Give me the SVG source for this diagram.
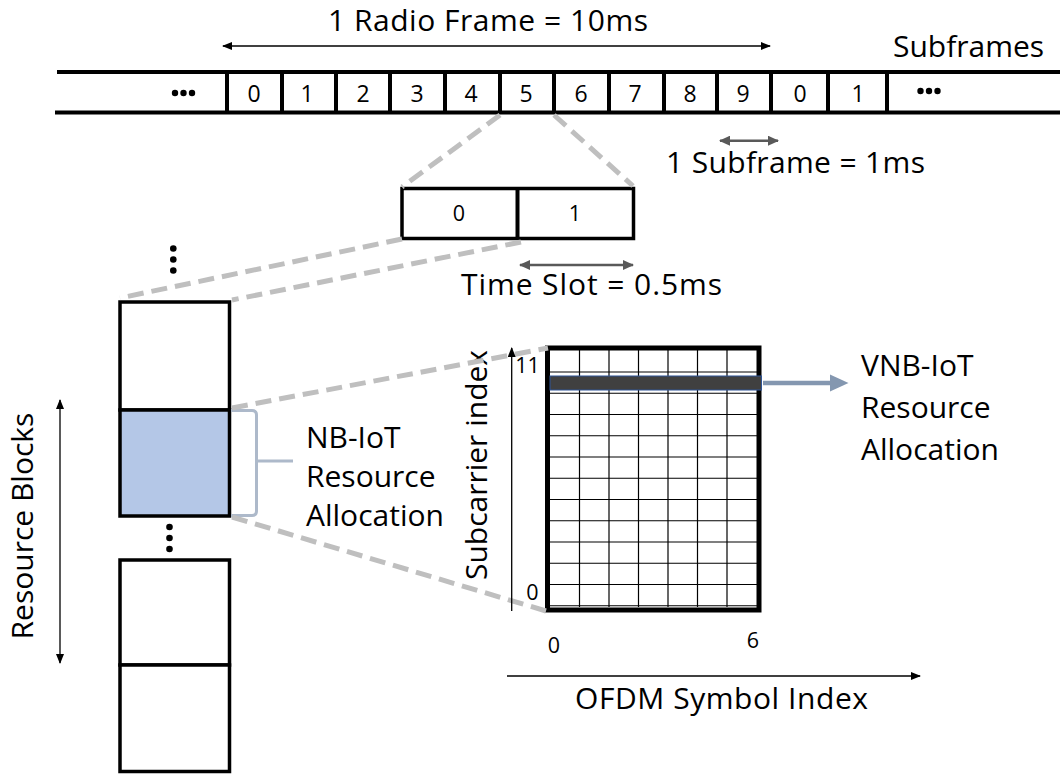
<svg xmlns="http://www.w3.org/2000/svg" width="1060" height="776" viewBox="0 0 1060 776">
  <style>
    text { font-family: "Open Sans", "Liberation Sans", sans-serif; fill: #000; }
    .lbl { font-size: 30px; }
    .dig { font-size: 23px; text-anchor: middle; }
    .sdig { font-size: 21.5px; text-anchor: middle; }
    .thick { stroke: #000; stroke-width: 4; fill: none; }
    .box { stroke: #000; stroke-width: 3.5; fill: #fff; }
    .grid { stroke: #000; stroke-width: 1.2; fill: none; }
    .dash { stroke: #bfbfbf; stroke-width: 5; stroke-dasharray: 16 8; fill: none; }
    .thin { stroke: #000; stroke-width: 1.3; fill: none; }
    .garr { stroke: #595959; stroke-width: 2.5; fill: none; }
    .dot { fill: #000; }
  </style>
  <defs>
    <marker id="ah" markerUnits="userSpaceOnUse" markerWidth="10" markerHeight="8" refX="9" refY="4" orient="auto-start-reverse">
      <path d="M0,0 L10,4 L0,8 Z" fill="#000"/>
    </marker>
    <marker id="ahg" markerUnits="userSpaceOnUse" markerWidth="11" markerHeight="10" refX="10" refY="5" orient="auto-start-reverse">
      <path d="M0,0 L11,5 L0,10 Z" fill="#595959"/>
    </marker>
  </defs>

  <rect x="0" y="0" width="1060" height="776" fill="#fff"/>

  <!-- Subframe strip -->
  <g id="subframe-strip">
    <line x1="57" y1="72" x2="1060" y2="72" class="thick"/>
    <line x1="55" y1="112.5" x2="1060" y2="112.5" class="thick"/>
    <g class="thick">
      <line x1="227" y1="72" x2="227" y2="112.5"/>
      <line x1="282" y1="72" x2="282" y2="112.5"/>
      <line x1="336" y1="72" x2="336" y2="112.5"/>
      <line x1="390" y1="72" x2="390" y2="112.5"/>
      <line x1="445" y1="72" x2="445" y2="112.5"/>
      <line x1="500" y1="72" x2="500" y2="112.5"/>
      <line x1="554" y1="72" x2="554" y2="112.5"/>
      <line x1="609" y1="72" x2="609" y2="112.5"/>
      <line x1="664" y1="72" x2="664" y2="112.5"/>
      <line x1="717" y1="72" x2="717" y2="112.5"/>
      <line x1="771" y1="72" x2="771" y2="112.5"/>
      <line x1="828" y1="72" x2="828" y2="112.5"/>
      <line x1="887" y1="72" x2="887" y2="112.5"/>
    </g>
    <text class="dig" x="254" y="101.5">0</text>
    <text class="dig" x="307" y="101.5">1</text>
    <text class="dig" x="363" y="101.5">2</text>
    <text class="dig" x="417" y="101.5">3</text>
    <text class="dig" x="471" y="101.5">4</text>
    <text class="dig" x="526" y="101.5">5</text>
    <text class="dig" x="581" y="101.5">6</text>
    <text class="dig" x="635" y="101.5">7</text>
    <text class="dig" x="690" y="101.5">8</text>
    <text class="dig" x="743" y="101.5">9</text>
    <text class="dig" x="800" y="101.5">0</text>
    <text class="dig" x="858" y="101.5">1</text>
    <circle class="dot" cx="175" cy="93" r="3.2"/>
    <circle class="dot" cx="183.5" cy="93" r="3.2"/>
    <circle class="dot" cx="192" cy="93" r="3.2"/>
    <circle class="dot" cx="920.5" cy="91" r="3.2"/>
    <circle class="dot" cx="929" cy="91" r="3.2"/>
    <circle class="dot" cx="937.5" cy="91" r="3.2"/>
  </g>

  <g id="label-radio-frame"><text class="lbl" x="328" y="30.5" textLength="320" lengthAdjust="spacing">1 Radio Frame = 10ms</text></g>
  <g id="label-subframes"><text class="lbl" x="893" y="57">Subframes</text></g>
  <g id="label-subframe-dur"><text class="lbl" x="666" y="173" textLength="259" lengthAdjust="spacing">1 Subframe = 1ms</text></g>

  <!-- Time slots -->
  <g id="time-slots">
    <rect x="402" y="188.5" width="231.5" height="50" class="box"/>
    <line x1="517.5" y1="188.5" x2="517.5" y2="238.5" class="thick"/>
    <text class="sdig" x="459" y="220.5">0</text>
    <text class="sdig" x="575" y="220.5">1</text>
  </g>
  <g id="label-time-slot"><text class="lbl" x="461" y="295" textLength="261" lengthAdjust="spacing">Time Slot = 0.5ms</text></g>

  <!-- Resource blocks -->
  <g id="resource-blocks">
    <circle class="dot" cx="173.3" cy="248.5" r="3.3"/>
    <circle class="dot" cx="173.3" cy="259.5" r="3.3"/>
    <circle class="dot" cx="173.3" cy="270.5" r="3.3"/>
    <rect x="120" y="302" width="109.5" height="108" class="box"/>
    <rect x="120" y="410" width="109.5" height="106" class="box" style="fill:#b4c7e7"/>
    <circle class="dot" cx="169.5" cy="527" r="3.3"/>
    <circle class="dot" cx="169.5" cy="538" r="3.3"/>
    <circle class="dot" cx="169.5" cy="549" r="3.3"/>
    <rect x="120" y="560" width="109.5" height="105" class="box"/>
    <rect x="120" y="665" width="109.5" height="106.5" class="box"/>
  </g>
  <g id="label-resource-blocks">
    <text class="lbl" text-anchor="middle" transform="translate(33,526) rotate(-90)">Resource Blocks</text>
  </g>

  <!-- NB-IoT bracket & label -->
  <g id="nbiot-allocation">
    <path d="M231,410.5 L252,410.5 Q256.5,410.5 256.5,415 L256.5,511 Q256.5,515.5 252,515.5 L231,515.5 M256.5,461 L293,461" stroke="#adb9ca" stroke-width="3" fill="none"/>
    <text class="lbl" x="306" y="448">NB-IoT</text>
    <text class="lbl" x="306" y="487">Resource</text>
    <text class="lbl" x="306" y="526">Allocation</text>
  </g>

  <!-- Resource grid -->
  <g id="resource-grid">
    <g class="grid">
      <line x1="579.5" y1="350" x2="579.5" y2="607"/>
      <line x1="609" y1="350" x2="609" y2="607"/>
      <line x1="638.5" y1="350" x2="638.5" y2="607"/>
      <line x1="668" y1="350" x2="668" y2="607"/>
      <line x1="697.5" y1="350" x2="697.5" y2="607"/>
      <line x1="727" y1="350" x2="727" y2="607"/>
      <line x1="549" y1="372" x2="758" y2="372"/>
      <line x1="549" y1="393.25" x2="758" y2="393.25"/>
      <line x1="549" y1="414.5" x2="758" y2="414.5"/>
      <line x1="549" y1="435.75" x2="758" y2="435.75"/>
      <line x1="549" y1="457" x2="758" y2="457"/>
      <line x1="549" y1="478.25" x2="758" y2="478.25"/>
      <line x1="549" y1="499.5" x2="758" y2="499.5"/>
      <line x1="549" y1="520.75" x2="758" y2="520.75"/>
      <line x1="549" y1="542" x2="758" y2="542"/>
      <line x1="549" y1="563.25" x2="758" y2="563.25"/>
      <line x1="549" y1="584.5" x2="758" y2="584.5"/>
      <line x1="549" y1="605.75" x2="758" y2="605.75"/>
    </g>
    <rect x="547.5" y="348" width="211.5" height="262" fill="none" stroke="#000" stroke-width="5"/>
    <rect x="550" y="376" width="211.5" height="14" fill="#404040" stroke="#2f5597" stroke-width="1"/>
    <text class="sdig" x="527.5" y="373">11</text>
    <text class="sdig" x="532.5" y="600">0</text>
    <text class="sdig" x="554" y="653">0</text>
    <text class="sdig" x="753" y="648">6</text>
  </g>
  <g id="label-subcarrier">
    <text class="lbl" text-anchor="middle" transform="translate(487,465) rotate(-90)">Subcarrier index</text>
  </g>
  <g id="label-ofdm"><text class="lbl" x="575" y="709" textLength="293" lengthAdjust="spacing">OFDM Symbol Index</text></g>

  <g id="vnbiot-allocation">
    <text class="lbl" x="861" y="376">VNB-IoT</text>
    <text class="lbl" x="861" y="418">Resource</text>
    <text class="lbl" x="861" y="460">Allocation</text>
  </g>

  <!-- Connectors -->
  <g id="connectors">
    <line class="dash" x1="500" y1="115" x2="402" y2="187"/>
    <line class="dash" x1="554" y1="115" x2="633" y2="186"/>
    <line class="dash" x1="402" y1="239" x2="120" y2="298"/>
    <line class="dash" x1="521" y1="242" x2="232" y2="300"/>
    <line class="dash" x1="232" y1="408" x2="548" y2="348"/>
    <line class="dash" x1="232" y1="517" x2="546" y2="611"/>

    <line class="thin" x1="223" y1="46" x2="770" y2="46" marker-start="url(#ah)" marker-end="url(#ah)"/>
    <line class="garr" x1="720" y1="140.7" x2="778" y2="140.7" marker-start="url(#ahg)" marker-end="url(#ahg)"/>
    <line class="garr" x1="520" y1="265" x2="633" y2="265" marker-start="url(#ahg)" marker-end="url(#ahg)"/>
    <line class="thin" x1="60" y1="400" x2="60" y2="663" marker-start="url(#ah)" marker-end="url(#ah)"/>
    <line class="thin" x1="511.7" y1="611" x2="511.7" y2="348" marker-end="url(#ah)"/>
    <line class="thin" x1="507" y1="676" x2="920" y2="676" marker-end="url(#ah)"/>

    <line x1="763" y1="383" x2="832" y2="383" stroke="#8497b0" stroke-width="4.5"/>
    <path d="M830,374.5 L848.5,383 L830,391.5 Z" fill="#8497b0"/>
  </g>
</svg>
